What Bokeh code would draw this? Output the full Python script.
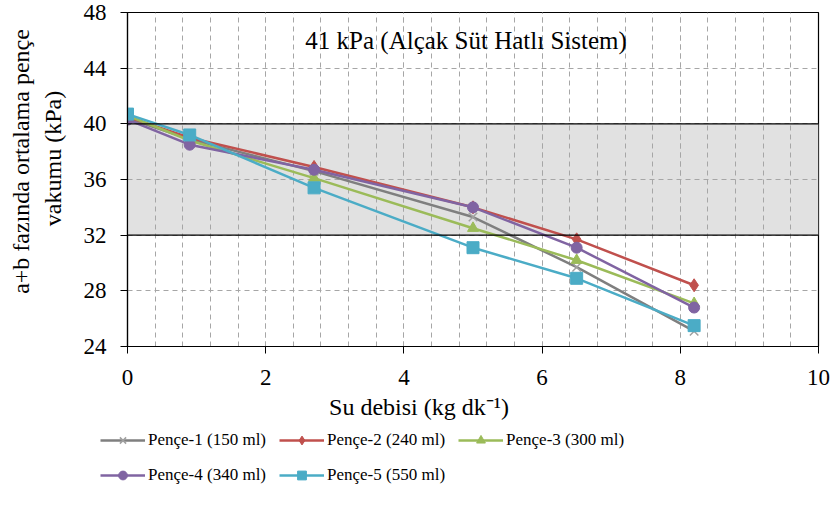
from bokeh.plotting import figure
from bokeh.models import (BoxAnnotation, Span, Label, Legend, LegendItem,
                          SingleIntervalTicker, Range1d)
from bokeh.embed import file_html
from bokeh.resources import INLINE

# ---- data ----
flow = [0, 0.9, 2.7, 5.0, 6.5, 8.2]
pence1 = [40.4, 38.9, 36.6, 33.3, 29.7, 25.1]
pence2 = [40.5, 39.0, 36.9, 34.0, 31.7, 28.4]
pence3 = [40.6, 38.8, 36.1, 32.5, 30.2, 27.1]
pence4 = [40.3, 38.5, 36.7, 34.0, 31.1, 26.8]
pence5 = [40.7, 39.2, 35.4, 31.1, 28.9, 25.5]
series_names = ["Pençe-1 (150 ml)", "Pençe-2 (240 ml)", "Pençe-3 (300 ml)",
                "Pençe-4 (340 ml)", "Pençe-5 (550 ml)"]
band_low, band_high = 32, 40
title_text = "41 kPa (Alçak Süt Hatlı Sistem)"
x_title = "Su debisi (kg dk⁻¹)"
y_title_lines = ["a+b fazında ortalama pençe", "vakumu (kPa)"]

FONT = "Liberation Serif"
NB = "\u00a0"

p = figure(frame_width=691, frame_height=334, x_range=(0, 10), y_range=(24, 48),
           output_backend="svg", toolbar_location=None,
           min_border_left=127, min_border_right=14, min_border_top=12,
           min_border_bottom=0)
p.background_fill_color = "white"
p.border_fill_color = "white"
p.outline_line_color = "black"
p.outline_line_width = 1.2

band = BoxAnnotation(bottom=band_low, top=band_high, fill_color="#e1e1e1",
                     fill_alpha=1.0, line_color=None, level="image")
p.add_layout(band)

p.xaxis.ticker = SingleIntervalTicker(interval=2, num_minor_ticks=5)
p.yaxis.ticker = SingleIntervalTicker(interval=4, num_minor_ticks=0)
for g in (p.xgrid, p.ygrid):
    g.grid_line_color = "#a6a6a6"
    g.grid_line_dash = "5 4"
    g.grid_line_width = 1
p.xgrid.minor_grid_line_color = "#a6a6a6"
p.xgrid.minor_grid_line_dash = "5 4"

for v in (band_low, band_high):
    p.add_layout(Span(location=v, dimension="width", line_color="black",
                      line_width=1.3))

for ax in (p.xaxis, p.yaxis):
    ax.axis_line_color = "black"
    ax.axis_line_width = 1.2
    ax.major_tick_line_color = "black"
    ax.major_tick_in = 0
    ax.major_tick_out = 7
    ax.minor_tick_line_color = None
    ax.major_label_text_font = FONT
    ax.major_label_text_font_size = "23px"
    ax.major_label_text_color = "black"
    ax.axis_label_text_font = FONT
    ax.axis_label_text_font_style = "normal"
    ax.axis_label_text_color = "black"
    ax.axis_label_text_font_size = "24px"
p.xaxis.major_label_standoff = 16
p.yaxis.major_label_standoff = 14
# non-breaking spaces shift the titles off-centre as in the reference
p.xaxis.axis_label = x_title + NB * 18
p.xaxis.axis_label_standoff = 6
p.yaxis.axis_label = (NB * 6 + y_title_lines[0]) + "\n" + (NB * 7 + y_title_lines[1])
p.yaxis.axis_label_standoff = 15

colors = ["#7f7f7f", "#c0504d", "#9bbb59", "#8064a2", "#4bacc6"]
markers = ["x", "diamond", "triangle", "circle", "square"]
sizes = [12, 13, 11, 11, 12]
data = [pence1, pence2, pence3, pence4, pence5]

# legend-only strip below the chart (separate root, so no frame alignment)
leg_fig = figure(width=832, height=93, x_range=Range1d(100, 110),
                 y_range=Range1d(100, 110), output_backend="svg",
                 toolbar_location=None, x_axis_location=None,
                 y_axis_location=None, min_border=0)
leg_fig.grid.visible = False
leg_fig.outline_line_color = None
leg_fig.background_fill_color = "white"
leg_fig.border_fill_color = "white"


def draw(fig, ys, c, m, s):
    r1 = fig.line(flow, ys, line_color=c, line_width=2.5)
    if m == "x":
        r2 = fig.scatter(flow, ys, marker=m, size=s, line_color="#a0a0a0",
                         line_width=1.5)
    else:
        r2 = fig.scatter(flow, ys, marker=m, size=s, fill_color=c,
                         line_color=c)
    return r1, r2


items = []
for name, ys, c, m, s in zip(series_names, data, colors, markers, sizes):
    draw(p, ys, c, m, s)
    r1, r2 = draw(leg_fig, ys, c, m, s)
    items.append(LegendItem(label=name, renderers=[r1, r2]))

legend = Legend(items=items, orientation="horizontal", ncols=3,
                label_text_font=FONT, label_text_font_size="17px",
                label_text_color="black", glyph_width=45, glyph_height=22,
                label_standoff=3, spacing=13, padding=0, margin=0,
                border_line_color=None, background_fill_alpha=0,
                location=(100, 29))
leg_fig.add_layout(legend)

p.add_layout(Label(x=4.9, y=46.0, text=title_text, text_font=FONT,
                   text_font_size="25px", text_align="center",
                   text_baseline="middle", text_color="black"))

open("out.html", "w").write(file_html([p, leg_fig], INLINE))
